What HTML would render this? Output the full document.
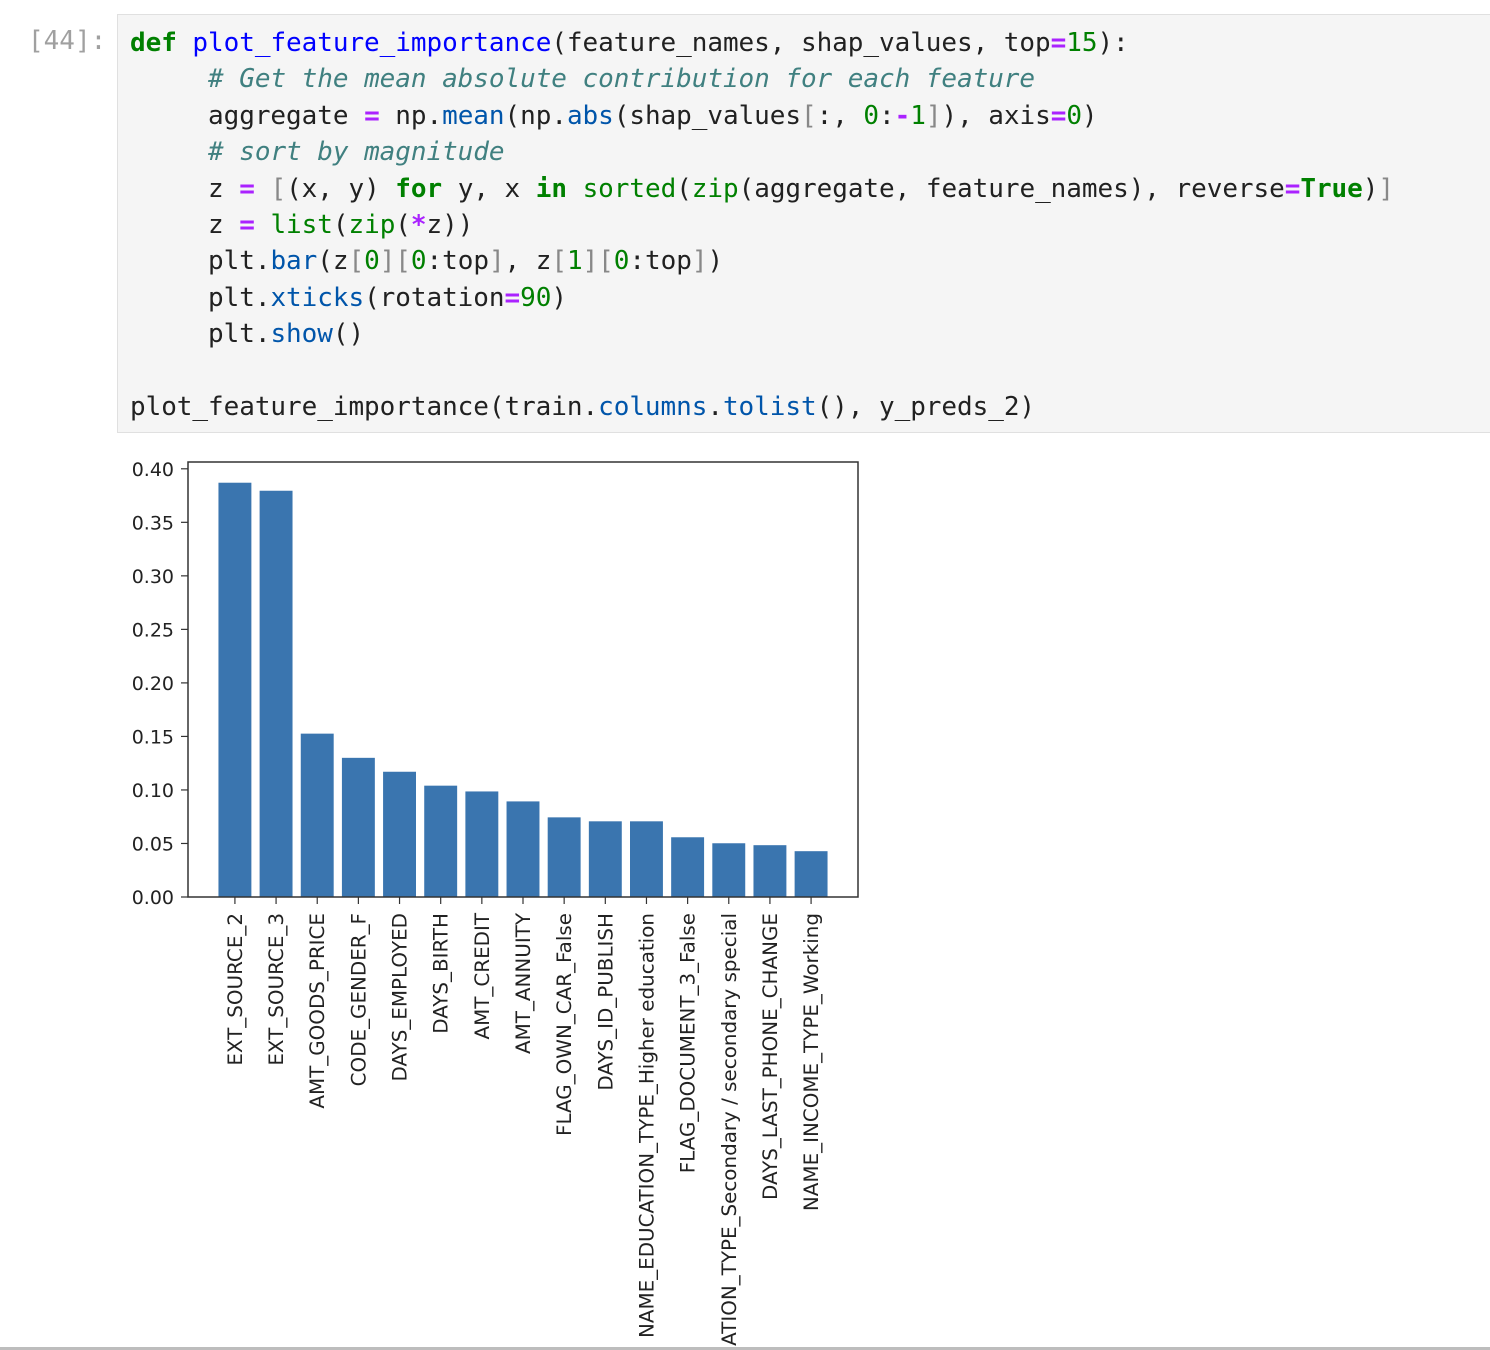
<!DOCTYPE html>
<html><head><meta charset="utf-8">
<style>
html,body{margin:0;padding:0;background:#fff;width:1490px;height:1350px;overflow:hidden;position:relative}
.prompt{position:absolute;left:28px;top:26px;font:26px "DejaVu Sans Mono","Liberation Mono",monospace;color:#a0a0a0}
.cell{position:absolute;left:117px;top:14px;width:1373px;height:419px;background:#f5f5f5;border:1px solid #e0e0e0;border-right:none;box-sizing:border-box;overflow:hidden}
pre{margin:0;position:absolute;left:12px;top:10px;font:26px/36.4px "DejaVu Sans Mono","Liberation Mono",monospace;color:#212121;letter-spacing:-0.05px}
.k{color:#008000;font-weight:bold}.f{color:#0000ff}.c{color:#408080;font-style:italic}.o{color:#aa22ff;font-weight:bold}.n{color:#008000}.b{color:#008000}.m{color:#0055aa}.br{color:#888}
.bottom{position:absolute;left:0;top:1347px;width:1490px;height:3px;background:#bdbdbd}
#chart{overflow:hidden}
</style></head><body>
<div class="prompt">[44]:</div>
<div class="cell">
<pre><span class="k">def</span> <span class="f">plot_feature_importance</span>(feature_names, shap_values, top<span class="o">=</span><span class="n">15</span>):
     <span class="c"># Get the mean absolute contribution for each feature</span>
     aggregate <span class="o">=</span> np.<span class="m">mean</span>(np.<span class="m">abs</span>(shap_values<span class="br">[</span>:, <span class="n">0</span>:<span class="o">-</span><span class="n">1</span><span class="br">]</span>), axis<span class="o">=</span><span class="n">0</span>)
     <span class="c"># sort by magnitude</span>
     z <span class="o">=</span> <span class="br">[</span>(x, y) <span class="k">for</span> y, x <span class="k">in</span> <span class="b">sorted</span>(<span class="b">zip</span>(aggregate, feature_names), reverse<span class="o">=</span><span class="k">True</span>)<span class="br">]</span>
     z <span class="o">=</span> <span class="b">list</span>(<span class="b">zip</span>(<span class="o">*</span>z))
     plt.<span class="m">bar</span>(z<span class="br">[</span><span class="n">0</span><span class="br">][</span><span class="n">0</span>:top<span class="br">]</span>, z<span class="br">[</span><span class="n">1</span><span class="br">][</span><span class="n">0</span>:top<span class="br">]</span>)
     plt.<span class="m">xticks</span>(rotation<span class="o">=</span><span class="n">90</span>)
     plt.<span class="m">show</span>()

plot_feature_importance(train.<span class="m">columns</span>.<span class="m">tolist</span>(), y_preds_2)</pre>
</div>
<svg id="chart" style="position:absolute;left:0;top:440px" width="1490" height="907"></svg>
<div class="bottom"></div>
<script>
const categories=["EXT_SOURCE_2","EXT_SOURCE_3","AMT_GOODS_PRICE","CODE_GENDER_F","DAYS_EMPLOYED","DAYS_BIRTH","AMT_CREDIT","AMT_ANNUITY","FLAG_OWN_CAR_False","DAYS_ID_PUBLISH","NAME_EDUCATION_TYPE_Higher education","FLAG_DOCUMENT_3_False","NAME_EDUCATION_TYPE_Secondary / secondary special","DAYS_LAST_PHONE_CHANGE","NAME_INCOME_TYPE_Working"];
const values=[0.387,0.3795,0.1526,0.130,0.117,0.104,0.0986,0.0893,0.0744,0.0707,0.0707,0.0558,0.0502,0.0484,0.0428];
const yTicks=[0,0.05,0.10,0.15,0.20,0.25,0.30,0.35,0.40];
const yTickLabels=["0.00","0.05","0.10","0.15","0.20","0.25","0.30","0.35","0.40"];
const NS="http://www.w3.org/2000/svg";
const svg=document.getElementById('chart');
const OY=440;
const L=188,R=858,T=462-OY,B=897-OY;
const n=categories.length;
const xmin=-0.4-0.05*(n-1+0.8),xmax=n-1+0.4+0.05*(n-1+0.8);
const ymax=Math.max(...values)*1.05;
function xs(v){return L+(v-xmin)/(xmax-xmin)*(R-L);}
function ys(v){return B-v/ymax*(B-T);}
function mk(tag,attrs){const e=document.createElementNS(NS,tag);for(const k in attrs)e.setAttribute(k,attrs[k]);svg.appendChild(e);return e;}
values.forEach((v,i)=>{
  const r=mk('rect',{x:xs(i-0.4),y:ys(v),width:xs(i+0.4)-xs(i-0.4),height:B-ys(v),fill:'#3a75af'});
  
  
  const t=mk('line',{x1:xs(i),x2:xs(i),y1:B,y2:B+7,stroke:'#333','stroke-width':1.2});
  
  
  const lx=xs(i)+7, ly=B+16;
  const lb=mk('text',{x:lx,y:ly,transform:`rotate(-90 ${lx} ${ly})`,'text-anchor':'end','font-family':'"DejaVu Sans",sans-serif','font-size':19.9,fill:'#222'});
  lb.textContent=categories[i];
  
  
});
yTicks.forEach((v,i)=>{
  const y=ys(v);
  const t=mk('line',{x1:L-7,x2:L,y1:y,y2:y,stroke:'#333','stroke-width':1.2});
  
  
  const lb=mk('text',{x:L-14,y:y+7,'text-anchor':'end','font-family':'"DejaVu Sans",sans-serif','font-size':19,fill:'#222'});
  lb.textContent=yTickLabels[i];
  
  
});
const fr=mk('rect',{x:L,y:T,width:R-L,height:B-T,fill:'none',stroke:'#333','stroke-width':1.5});


</script>
</body></html>
